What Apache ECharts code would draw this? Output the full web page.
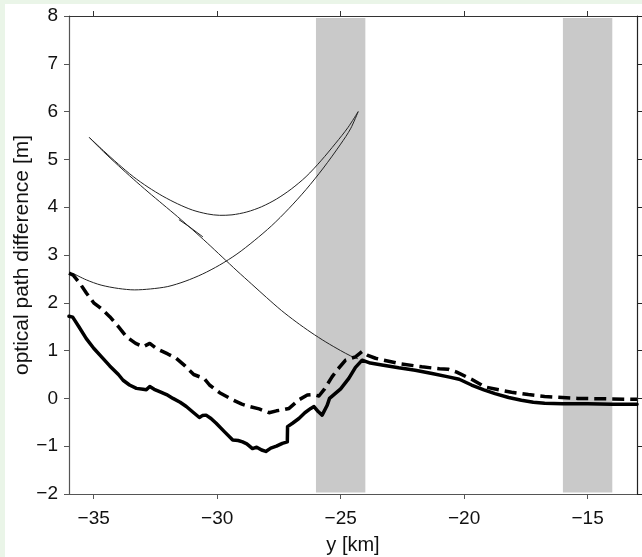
<!DOCTYPE html>
<html>
<head>
<meta charset="utf-8">
<script src="https://cdn.jsdelivr.net/npm/echarts@6/dist/echarts.min.js"></script>
<style>
  html, body { margin: 0; padding: 0; background: #eaf5e8; }
  #chart { position: absolute; left: 5px; top: 4px; width: 637px; height: 553px; background: #fff; }
</style>
</head>
<body>
<div id="chart"></div>
<script>
// tick positions
var xTicks = [-35, -30, -25, -20, -15];

// shaded bands (y [km])
var bands = [[-26, -24], [-16, -14]];

// thick solid line
var solidX = [-36.0, -35.85, -35.6, -35.3, -35.0, -34.7, -34.35, -34.0, -33.81, -33.55, -33.27, -33.0, -32.87, -32.73, -32.55,
  -32.33, -32.05, -31.79, -31.5, -31.25, -31.0, -30.72, -30.6, -30.45, -30.25, -30.04, -29.7, -29.37, -29.15, -28.97,
  -28.8, -28.57, -28.4, -28.2, -28.03, -27.83, -27.6, -27.36, -27.16, -27.15, -26.95, -26.69, -26.45, -26.21, -26.08,
  -25.9, -25.75, -25.55, -25.45, -25.0, -24.67, -24.4, -24.13, -23.8, -23.33, -22.65, -21.98, -21.3, -20.64, -20.2,
  -19.7, -19.2, -18.75, -18.2, -17.68, -17.2, -16.74, -16.0, -15.0, -14.0, -13.0];
var solidY = [1.72, 1.70, 1.50, 1.25, 1.05, 0.88, 0.68, 0.50, 0.38, 0.28, 0.21, 0.19, 0.18, 0.25, 0.19,
  0.14, 0.08, 0.00, -0.08, -0.17, -0.28, -0.40, -0.36, -0.35, -0.42, -0.52, -0.70, -0.87, -0.88, -0.91,
  -0.95, -1.05, -1.02, -1.08, -1.11, -1.04, -1.00, -0.94, -0.91, -0.59, -0.52, -0.42, -0.30, -0.21, -0.17,
  -0.28, -0.35, -0.15, 0.00, 0.20, 0.42, 0.65, 0.80, 0.74, 0.70, 0.64, 0.59, 0.52, 0.45, 0.40,
  0.28, 0.18, 0.10, 0.02, -0.04, -0.08, -0.10, -0.11, -0.11, -0.12, -0.12];

// thick dashed line
var dashX = [-36.0, -35.83, -35.55, -35.29, -35.0, -34.7, -34.35, -34.0, -33.67, -33.3, -33.0, -32.73, -32.5, -32.33,
  -32.0, -31.66, -31.3, -30.95, -30.7, -30.5, -30.31, -29.9, -29.37, -29.0, -28.7, -28.3, -27.9, -27.6, -27.36,
  -27.09, -26.69, -26.35, -26.1, -25.88, -25.65, -25.35, -25.1, -24.8, -24.4, -24.13, -23.9, -23.59, -22.65,
  -21.71, -21.0, -20.64, -20.3, -19.7, -19.16, -18.6, -18.08, -17.4, -16.74, -15.4, -14.2, -13.0];
var dashY = [2.62, 2.58, 2.40, 2.20, 2.00, 1.88, 1.71, 1.50, 1.29, 1.15, 1.08, 1.15, 1.06, 1.01,
  0.93, 0.84, 0.68, 0.50, 0.45, 0.40, 0.28, 0.12, -0.03, -0.12, -0.17, -0.22, -0.30, -0.26, -0.24,
  -0.21, -0.03, 0.07, 0.08, 0.05, 0.20, 0.45, 0.62, 0.80, 0.87, 0.98, 0.90, 0.84, 0.73,
  0.66, 0.62, 0.61, 0.55, 0.40, 0.24, 0.18, 0.13, 0.08, 0.04, 0.00, -0.01, -0.02];

// thin curves
var upperX = [-35.18, -34.6, -34.0, -33.4, -32.8, -32.2, -31.6, -31.0, -30.4, -29.9, -29.4, -28.8, -28.2, -27.6, -27.0, -26.4, -25.8, -25.2, -24.7, -24.29];
var upperY = [5.46, 5.18, 4.90, 4.64, 4.42, 4.23, 4.07, 3.94, 3.86, 3.83, 3.84, 3.90, 4.01, 4.17, 4.38, 4.64, 4.97, 5.34, 5.67, 6.00];

var lowerX = [-35.85, -35.3, -34.7, -34.0, -33.34, -32.7, -32.0, -31.3, -30.6, -29.9, -29.2, -28.5, -27.8, -27.1, -26.4, -25.7, -25.0, -24.6, -24.29];
var lowerY = [2.62, 2.48, 2.37, 2.30, 2.27, 2.29, 2.34, 2.45, 2.60, 2.79, 3.02, 3.30, 3.61, 3.97, 4.37, 4.82, 5.32, 5.64, 6.00];

var descX = [-35.18, -34.6, -34.0, -33.4, -32.8, -32.2, -31.6, -31.0, -30.4, -29.8, -29.2, -28.6, -28.0, -27.4, -26.8, -26.2, -25.6, -25.0, -24.6, -24.3];
var descY = [5.46, 5.16, 4.87, 4.59, 4.32, 4.06, 3.80, 3.53, 3.25, 2.96, 2.67, 2.39, 2.11, 1.84, 1.60, 1.38, 1.18, 1.00, 0.89, 0.83];

var spurX = [-31.55, -31.1, -30.58];
var spurY = [3.74, 3.58, 3.38];

function pairs(xs, ys) {
    return xs.map(function (x, i) { return [x, ys[i]]; });
}
function minus(v) {
    return String(v).replace('-', '\u2212');
}

var FONT = "'Liberation Sans', Arial, Helvetica, sans-serif";
var axisColor = '#555';

var chart = echarts.init(document.getElementById('chart'), null, {renderer: 'canvas'});

var thin = {type: 'line', symbol: 'none', smooth: 0.3, z: 3, silent: true,
    lineStyle: {color: '#222', width: 1}};

var option = {
    animation: false,
    backgroundColor: '#fff',
    grid: {left: 64, top: 12, width: 568, height: 478, containLabel: false, outerBoundsMode: 'none'},
    xAxis: [{
        type: 'value', position: 'bottom', min: -36, max: -13,
        name: 'y [km]', nameLocation: 'middle', nameGap: 41, nameMoveOverlap: false,
        nameTextStyle: {fontFamily: FONT, fontSize: 20, color: '#111'},
        axisLine: {show: true, onZero: false, lineStyle: {color: axisColor, width: 1.2}},
        axisTick: {show: true, customValues: xTicks, length: 5, lineStyle: {color: axisColor}},
        axisLabel: {customValues: xTicks, margin: 15, fontFamily: FONT, fontSize: 19, color: '#111', formatter: minus},
        splitLine: {show: false}
    }, {
        type: 'value', position: 'top', min: -36, max: -13,
        axisLine: {show: true, onZero: false, lineStyle: {color: '#333', width: 1.2}},
        axisTick: {show: true, customValues: xTicks, length: 5, lineStyle: {color: '#333'}},
        axisLabel: {show: false},
        splitLine: {show: false}
    }],
    yAxis: [{
        type: 'value', position: 'left', min: -2, max: 8, interval: 1,
        name: 'optical path difference [m]', nameLocation: 'middle', nameGap: 36, nameRotate: 90,
        nameMoveOverlap: false,
        nameTextStyle: {fontFamily: FONT, fontSize: 21, color: '#111'},
        axisLine: {show: true, onZero: false, lineStyle: {color: axisColor, width: 1.2}},
        axisTick: {show: true, length: 5, lineStyle: {color: axisColor}},
        axisLabel: {margin: 11, fontFamily: FONT, fontSize: 19, color: '#111', formatter: minus},
        splitLine: {show: false}
    }, {
        type: 'value', position: 'right', min: -2, max: 8, interval: 1,
        axisLine: {show: true, onZero: false, lineStyle: {color: '#222', width: 1.2}},
        axisTick: {show: true, length: 5, lineStyle: {color: '#222'}},
        axisLabel: {show: false},
        splitLine: {show: false}
    }],
    series: [{
        type: 'line', data: [], symbol: 'none', z: 1, silent: true,
        markArea: {
            silent: true,
            itemStyle: {color: '#c9c9c9', opacity: 1},
            data: bands.map(function (b) {
                return [{xAxis: b[0], yAxis: -1.97}, {xAxis: b[1], yAxis: 7.96}];
            })
        }
    }]
};

option.series.push(Object.assign({}, thin, {data: pairs(upperX, upperY)}));
option.series.push(Object.assign({}, thin, {data: pairs(lowerX, lowerY)}));
option.series.push(Object.assign({}, thin, {data: pairs(descX, descY)}));
option.series.push(Object.assign({}, thin, {data: pairs(spurX, spurY), smooth: false}));
option.series.push({
    type: 'line', symbol: 'none', z: 4, silent: true, data: pairs(dashX, dashY),
    lineStyle: {color: '#000', width: 3.5, type: [12, 6], join: 'round'}
});
option.series.push({
    type: 'line', symbol: 'none', z: 5, silent: true, data: pairs(solidX, solidY),
    lineStyle: {color: '#000', width: 3.5, join: 'round', cap: 'round'}
});

chart.setOption(option);
</script>
</body>
</html>
